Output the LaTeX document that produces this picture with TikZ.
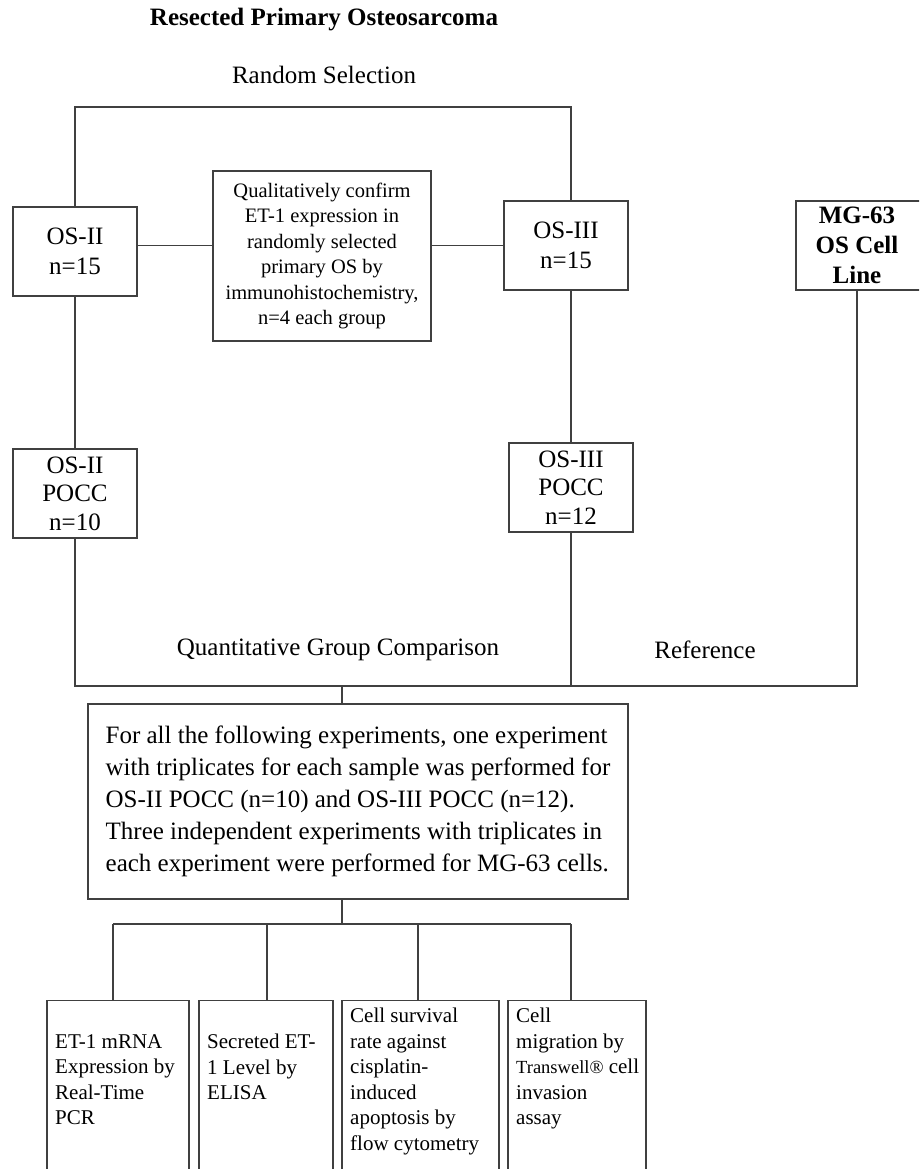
\documentclass[tikz,border=0pt]{standalone}
\usepackage{fontspec}
\setmainfont{Liberation Serif}
\begin{document}
\begin{tikzpicture}[x=1pt,y=-1pt,
  line/.style={draw=black!75,line width=1.1pt},
  box/.style={draw=black!75,line width=1.1pt,inner sep=0pt,align=center},
  bigfont/.style={font=\fontsize{25}{30}\selectfont},
  pocc/.style={font=\fontsize{25}{28.5}\selectfont},
  smallfont/.style={font=\fontsize{20.5}{25.5}\selectfont},
  cellbox/.style={box,minimum height=200,anchor=north},
  celltext/.style={font=\fontsize{21}{25.5}\selectfont,align=left,anchor=north west,inner sep=0pt},
]
\clip (0,0) rectangle (919,1169);
\fill[white] (0,0) rectangle (919,1169);

\node[font=\bfseries\fontsize{25}{30}\selectfont] (title) at (324,20) {Resected Primary Osteosarcoma};
\node[bigfont] (rand) at (324,75) {Random Selection};

\node[box,bigfont,minimum width=124,minimum height=89] (os2) at (75,251.5) {OS-II\\n=15};
\node[box,smallfont,minimum width=218,minimum height=170] (qual) at (322,256) {Qualitatively confirm\\ET-1 expression in\\randomly selected\\primary OS by\\immunohistochemistry,\\n=4 each group};
\node[box,bigfont,minimum width=124,minimum height=89] (os3) at (566,245.5) {OS-III\\n=15};
\node[box,minimum width=134,minimum height=89] (mg) at (863,245.5) {};
\node[font=\bfseries\fontsize{25}{30}\selectfont,align=center,inner sep=0pt] (mgtext) at (857,245.5) {MG-63\\OS Cell\\Line};
\node[box,pocc,minimum width=124,minimum height=89] (os2p) at (75,493.5) {OS-II\\POCC\\n=10};
\node[box,pocc,minimum width=124,minimum height=89] (os3p) at (571,487.5) {OS-III\\POCC\\n=12};

\coordinate (tl) at (75,107);
\coordinate (tr) at (571,107);
\draw[line] (os2.north) -- (tl) -- (tr) -- (os3.north -| tr);
\draw[line] (os2.east |- os3.west) -- (qual.west |- os3.west);
\draw[line] (qual.east |- os3.west) -- (os3.west);
\draw[line] (os2.south) -- (os2p.north);
\draw[line] (os3.south -| tr) -- (os3p.north);

\coordinate (bl) at (75,686);
\coordinate (br) at (857,686);
\draw[line] (os2p.south) -- (bl) -- (br) -- (br |- mg.south);
\draw[line] (os3p.south) -- (os3p.south |- bl);
\node[bigfont] (qgc) at (338,650) {Quantitative Group Comparison};
\node[bigfont] (ref) at (705,650) {Reference};

\node[box,font=\fontsize{25}{32}\selectfont,align=left,minimum width=540,minimum height=195] (exp) at (358,801.5)
 {For all the following experiments, one experiment\\
  with triplicates for each sample was performed for\\
  OS-II POCC (n=10) and OS-III POCC (n=12).\\
  Three independent experiments with triplicates in\\
  each experiment were performed for MG-63 cells.};
\coordinate (ej) at (342,686);
\draw[line] (ej) -- (exp.north -| ej);

\coordinate (split) at (342,924);
\coordinate (h1) at (113,924);
\coordinate (h2) at (267,924);
\coordinate (h3) at (418,924);
\coordinate (h4) at (571,924);
\draw[line] (exp.south -| split) -- (split);
\draw[line] (h1) -- (h4);

\node[cellbox,minimum width=142] (b1) at (118,1000) {};
\node[cellbox,minimum width=134] (b2) at (266,1000) {};
\node[cellbox,minimum width=157] (b3) at (420.5,1000) {};
\node[cellbox,minimum width=138] (b4) at (577,1000) {};
\draw[line] (h1) -- (h1 |- b1.north);
\draw[line] (h2) -- (h2 |- b2.north);
\draw[line] (h3) -- (h3 |- b3.north);
\draw[line] (h4) -- (h4 |- b4.north);

\node[celltext] (t1) at (55,1034) {ET-1 mRNA\\Expression by\\Real-Time\\PCR};
\node[celltext] (t2) at (207,1034) {Secreted ET-\\1 Level by\\ELISA};
\node[celltext] (t3) at (350,1008) {Cell survival\\rate against\\cisplatin-\\induced\\apoptosis by\\flow cytometry};
\node[celltext] (t4) at (516,1008) {Cell\\migration by\\{\fontsize{18.5}{20}\selectfont Transwell\textregistered} cell\\invasion\\assay};
\end{tikzpicture}
\end{document}
